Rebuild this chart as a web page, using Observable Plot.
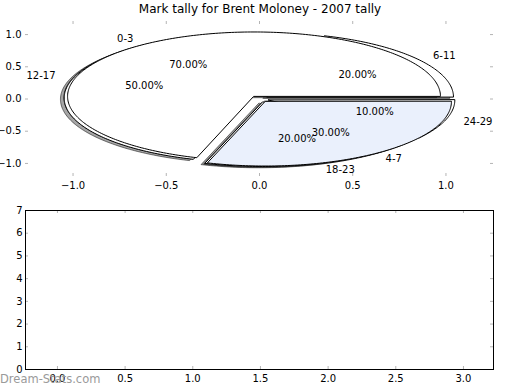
<!DOCTYPE html>
<html><head><meta charset="utf-8">
<script src="https://cdn.jsdelivr.net/npm/d3@7"></script>
<script src="https://cdn.jsdelivr.net/npm/@observablehq/plot@0.6"></script>
<style>
body{margin:0;background:#fff;}
#wrap{position:relative;width:520px;height:390px;font-family:"DejaVu Sans",sans-serif;overflow:hidden;}
#title{position:absolute;left:0;top:2px;width:520px;text-align:center;font-size:12px;color:#000;}
#top{position:absolute;left:0;top:0;}
#bottom{position:absolute;left:0;top:200px;}
#wm{position:absolute;left:0;top:372px;font-size:11.5px;color:#9a9a9a;}
</style></head><body>
<div id="wrap"><div id="top"></div><div id="bottom"></div>
<div id="title">Mark tally for Brent Moloney - 2007 tally</div>
<div id="wm">Dream-Stats.com</div></div>
<script>
// Pie 1
const pie1Labels = ["0-3", "4-7"];
const pie1Values = [70, 30];
const pie1Explode = [0.05, 0.05];
const pie1Colors = ["#ffffff", "#eaf0fc"];
// Pie 2
const pie2Labels = ["6-11", "12-17", "18-23", "24-29"];
const pie2Values = [20, 50, 20, 10];
const pie2Explode = [0.05, 0.05, 0.05, 0.05];
const pie2Colors = ["#ffffff", "#ffffff", "#ffffff", "#ffffff"];
// ticks
const topXTicks = [-1.0, -0.5, 0.0, 0.5, 1.0];
const topYTicks = [-1.0, -0.5, 0.0, 0.5, 1.0];
const bottomXTicks = [0.0, 0.5, 1.0, 1.5, 2.0, 2.5, 3.0];
const bottomYTicks = [0, 1, 2, 3, 4, 5, 6, 7];

function wedges(labels, values, explode, colors) {
  const total = d3.sum(values);
  let acc = 0;
  return labels.map((label, i) => {
    const t1 = acc / total * 2 * Math.PI; acc += values[i];
    const t2 = acc / total * 2 * Math.PI;
    const tm = (t1 + t2) / 2;
    const cx = explode[i] * Math.cos(tm), cy = explode[i] * Math.sin(tm);
    const n = Math.max(2, Math.ceil((t2 - t1) / (Math.PI / 180)));
    const pts = [{x: cx, y: cy}];
    for (let k = 0; k <= n; k++) {
      const t = t1 + (t2 - t1) * k / n;
      pts.push({x: cx + Math.cos(t), y: cy + Math.sin(t)});
    }
    const c = d3.rgb(colors[i]);
    const dark = d3.rgb(c.r * 0.3, c.g * 0.3, c.b * 0.3).formatHex();
    return {
      label, color: colors[i], dark, pts,
      pct: (values[i] / total * 100).toFixed(2) + "%",
      lx: cx + 1.1 * Math.cos(tm), ly: cy + 1.1 * Math.sin(tm),
      px: cx + 0.6 * Math.cos(tm), py: cy + 0.6 * Math.sin(tm)
    };
  });
}

const w1 = wedges(pie1Labels, pie1Values, pie1Explode, pie1Colors);
const w2 = wedges(pie2Labels, pie2Values, pie2Explode, pie2Colors);
const all = [...w2, ...w1];

const topW = 520, topH = 200;
const tm = {l: 25, r: 27, t: 21, b: 24};
const innerW = topW - tm.l - tm.r, innerH = topH - tm.t - tm.b;
const tickColor = "#b4b4b4";

const topMarks = [];
for (const w of all) {
  topMarks.push(Plot.line(w.pts, {x: d => d.x - 0.02, y: d => d.y - 0.02, curve: "linear-closed",
    fill: w.dark, fillOpacity: 0.5, stroke: "#000", strokeOpacity: 0.5, strokeWidth: 1}));
}
for (const w of all) {
  topMarks.push(Plot.line(w.pts, {x: "x", y: "y", curve: "linear-closed",
    fill: w.color, stroke: "#000", strokeWidth: 1}));
}
topMarks.push(
  Plot.tickX(topXTicks, {x: d => d, insetTop: innerH - 3, stroke: tickColor}),
  Plot.tickX(topXTicks, {x: d => d, insetBottom: innerH - 3, stroke: tickColor}),
  Plot.tickY(topYTicks, {y: d => d, insetRight: innerW - 3, stroke: tickColor}),
  Plot.tickY(topYTicks, {y: d => d, insetLeft: innerW - 3, stroke: tickColor}),
  Plot.axisX(topXTicks, {tickSize: 0, tickPadding: 5, tickFormat: d3.format(".1f")}),
  Plot.axisY(topYTicks, {tickSize: 0, tickPadding: 4, tickFormat: d3.format(".1f")}),
  Plot.text(all.filter(w => w.lx >= 0), {x: "lx", y: "ly", text: "label", textAnchor: "start", fill: "#000"}),
  Plot.text(all.filter(w => w.lx < 0), {x: "lx", y: "ly", text: "label", textAnchor: "end", fill: "#000"}),
  Plot.text(all, {x: "px", y: "py", text: "pct", textAnchor: "middle", fill: "#000"})
);

const topPlot = Plot.plot({
  width: topW, height: topH,
  marginLeft: tm.l, marginRight: tm.r, marginTop: tm.t, marginBottom: tm.b,
  x: {domain: [-1.255, 1.255], label: null},
  y: {domain: [-1.203, 1.203], label: null},
  style: {fontFamily: "DejaVu Sans", fontSize: "10px", color: "#000", background: "transparent"},
  marks: topMarks
});
document.getElementById("top").appendChild(topPlot);

const bW = 520, bH = 190;
const bm = {l: 25, r: 27, t: 10, b: 21};
const bInW = bW - bm.l - bm.r, bInH = bH - bm.t - bm.b;
const bottomPlot = Plot.plot({
  width: bW, height: bH,
  marginLeft: bm.l, marginRight: bm.r, marginTop: bm.t, marginBottom: bm.b,
  x: {domain: [-0.236, 3.222], label: null},
  y: {domain: [0, 7], label: null},
  style: {fontFamily: "DejaVu Sans", fontSize: "10px", color: "#000", background: "transparent"},
  marks: [
    Plot.tickX(bottomXTicks, {x: d => d, insetTop: bInH - 3, stroke: tickColor}),
    Plot.tickX(bottomXTicks, {x: d => d, insetBottom: bInH - 3, stroke: tickColor}),
    Plot.tickY(bottomYTicks, {y: d => d, insetRight: bInW - 3, stroke: tickColor}),
    Plot.tickY(bottomYTicks, {y: d => d, insetLeft: bInW - 3, stroke: tickColor}),
    Plot.frame({stroke: "#000", strokeWidth: 1}),
    Plot.axisX(bottomXTicks, {tickSize: 0, tickPadding: 5, tickFormat: d3.format(".1f")}),
    Plot.axisY(bottomYTicks, {tickSize: 0, tickPadding: 3, tickFormat: d3.format("d")})
  ]
});
document.getElementById("bottom").appendChild(bottomPlot);
</script>
</body></html>
